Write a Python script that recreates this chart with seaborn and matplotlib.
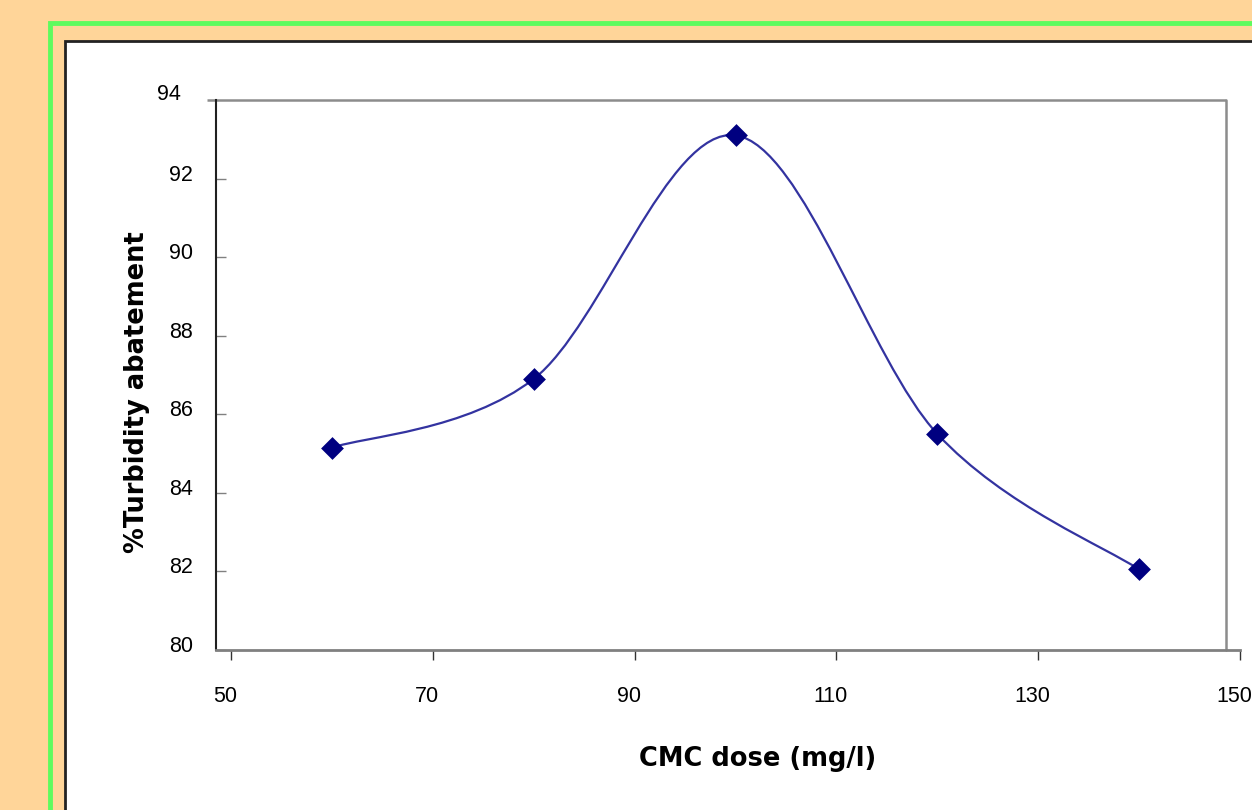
import numpy as np
import pandas as pd
import matplotlib
matplotlib.use("Agg")
import matplotlib.pyplot as plt
import matplotlib.transforms as mtransforms
from matplotlib.path import Path
from matplotlib.patches import PathPatch, Rectangle
import seaborn as sns

# data
cmc_dose = [60, 80, 100, 120, 140]
turbidity = [85.15, 86.9, 93.1, 85.5, 82.05]
x_ticks = [50, 70, 90, 110, 130, 150]
y_ticks = [80, 82, 84, 86, 88, 90, 92, 94]

df = pd.DataFrame({"dose": cmc_dose, "turb": turbidity})

sns.set_style("white")
plt.rcParams["font.family"] = ["Liberation Sans", "DejaVu Sans"]

W, H = 1252, 810
fig = plt.figure(figsize=(W / 100, H / 100), dpi=100)
fig.patch.set_facecolor("#FFD599")

def px(x0, y0, x1, y1):
    # pixel box -> figure fraction rect
    return (x0 / W, 1 - y1 / H, (x1 - x0) / W, (y1 - y0) / H)

# green frame and white panel (behind the axes)
r = px(50, 23, 1300, 900)
fig.patches.append(Rectangle(r[:2], r[2], r[3], transform=fig.transFigure,
                             facecolor="none", edgecolor="#5EFB5E", linewidth=3.5, zorder=-10))
r = px(65, 41, 1300, 900)
fig.patches.append(Rectangle(r[:2], r[2], r[3], transform=fig.transFigure,
                             facecolor="white", edgecolor="#222222", linewidth=2, zorder=-9))

ax = fig.add_axes(px(216, 100, 1240, 650))
ax.patch.set_alpha(0)
unit = 1009 / 100  # pixels per x unit
x_left = 50 - 15 / unit
x_right_box = 150 - 14 / unit
ax.set_xlim(x_left, 150)
ax.set_ylim(80, 94)

# smoothed line (Excel style bezier through points)
pts = np.column_stack([cmc_dose, turbidity])
verts = [tuple(pts[0])]
codes = [Path.MOVETO]
n = len(pts)
for i in range(n - 1):
    p0 = pts[i - 1] if i > 0 else pts[i]
    p1 = pts[i]
    p2 = pts[i + 1]
    p3 = pts[i + 2] if i + 2 < n else pts[i + 1]
    c1 = p1 + (p2 - p0) / 6
    c2 = p2 - (p3 - p1) / 6
    verts += [tuple(c1), tuple(c2), tuple(p2)]
    codes += [Path.CURVE4] * 3
ax.add_patch(PathPatch(Path(verts, codes), facecolor="none", edgecolor="#3333A0",
                       linewidth=1.6, zorder=2))

sns.scatterplot(data=df, x="dose", y="turb", marker="D", color="#000080",
                s=135, edgecolor="#000080", linewidth=0, zorder=3, ax=ax)

# plot-area box (top edge sticks out a little to the left, as in the original)
ax.plot([x_left - 9 / unit, x_right_box], [94, 94], color="#8C8C8C", lw=1.8,
        clip_on=False, zorder=1, solid_capstyle="butt")
ax.plot([x_right_box, x_right_box], [80, 94], color="#8C8C8C", lw=1.8, clip_on=False, zorder=1)

for s in ["top", "right"]:
    ax.spines[s].set_visible(False)
ax.spines["left"].set_color("#202020")
ax.spines["left"].set_linewidth(1.5)
ax.spines["bottom"].set_color("#808080")
ax.spines["bottom"].set_linewidth(2)

ax.set_xticks(x_ticks)
ax.set_yticks(y_ticks[:-1])
ax.tick_params(axis="both", width=1, color="#333333", labelsize=15.5,
               labelcolor="black", left=True, bottom=True)
ax.tick_params(axis="x", direction="out", length=7.5, pad=18.5)
ax.tick_params(axis="y", direction="in", length=7.5, pad=16.5, color="#808080")

off = mtransforms.ScaledTranslation(0, 6 / 100, fig.dpi_scale_trans)

# 94 label without a tick (top edge of box stands for it)
lbl94 = ax.text(-35 / 1024, 1.0, str(y_ticks[-1]), ha="right", va="center",
                fontsize=15.5, color="black")
lbl94.set_transform(ax.transAxes + off)

for t in ax.yaxis.get_major_ticks():
    t.label1.set_transform(t.label1.get_transform() + off)
offx = mtransforms.ScaledTranslation(-6 / 100, 0, fig.dpi_scale_trans)
for t in ax.xaxis.get_major_ticks():
    t.label1.set_transform(t.label1.get_transform() + offx)

ax.set_xlabel("CMC dose (mg/l)", fontsize=18.5, fontweight="bold", family="DejaVu Sans",
              color="black", labelpad=0)
ax.set_ylabel("%Turbidity abatement", fontsize=18.5, fontweight="bold", family="DejaVu Sans",
              color="black", labelpad=0)
ax.xaxis.set_label_coords((758 - 216) / 1024, -(759 - 650) / 550)
ax.yaxis.set_label_coords(-(216 - 137) / 1024, (650 - 392) / 550)
ax.xaxis.label.set_va("center")
ax.yaxis.label.set_va("center")
ax.grid(False)

fig.savefig("out.png", dpi=100, facecolor=fig.get_facecolor())
